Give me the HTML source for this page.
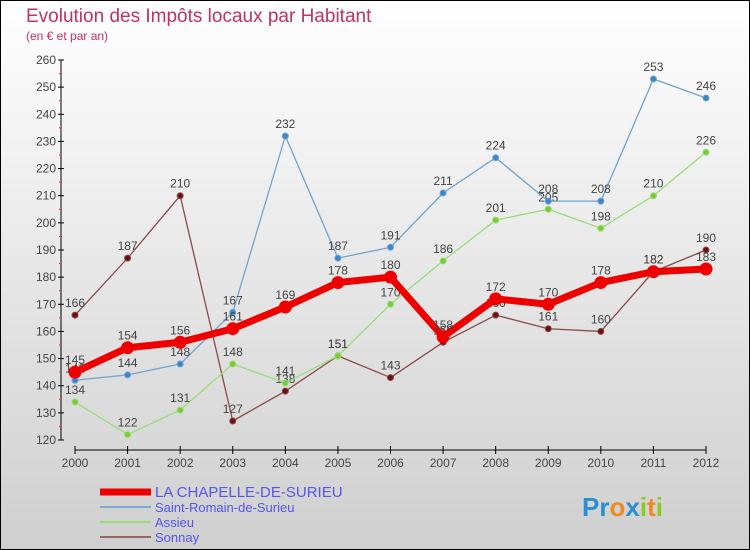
<!DOCTYPE html>
<html><head><meta charset="utf-8"><style>
body{margin:0}
#c{width:750px;height:550px;position:relative;overflow:hidden;font-family:"Liberation Sans",sans-serif}
</style></head><body>
<div id="c">
<svg id="s" width="750" height="550" xmlns="http://www.w3.org/2000/svg">
<defs><linearGradient id="bg" x1="0" y1="0" x2="0" y2="1"><stop offset="0" stop-color="#ffffff"/><stop offset="1" stop-color="#cfcfcf"/></linearGradient></defs>
<rect x="0.5" y="0.5" width="749" height="549" fill="url(#bg)" stroke="#000"/>
<text x="26" y="22" font-size="19" fill="#c0325f">Evolution des Impôts locaux par Habitant</text>
<text x="26" y="40" font-size="12" fill="#c0325f">(en € et par an)</text>
<g id="g"></g>
<text x="582" y="516" font-size="26" font-weight="bold"><tspan fill="#2a8fd0">Pr</tspan><tspan fill="#f08a1c">o</tspan><tspan fill="#2a8fd0">x</tspan><tspan fill="#88cc22">i</tspan><tspan fill="#f08a1c">t</tspan><tspan fill="#88cc22">i</tspan></text>
</svg>
</div>
<script>
const years=["2000","2001","2002","2003","2004","2005","2006","2007","2008","2009","2010","2011","2012"];
const yTicks=[120,130,140,150,160,170,180,190,200,210,220,230,240,250,260];
const chapelle=[145,154,156,161,169,178,180,158,172,170,178,182,183];
const romain=[142,144,148,167,232,187,191,211,224,208,208,253,246];
const assieu=[134,122,131,148,141,151,170,186,201,205,198,210,226];
const sonnay=[166,187,210,127,138,151,143,156,166,161,160,182,190];
const NS="http://www.w3.org/2000/svg";
const g=document.getElementById('g');
const X=i=>75+i*(706-75)/12;
const Y=v=>60+(260-v)*380/140;
function el(t,a,p){const e=document.createElementNS(NS,t);for(const k in a)e.setAttribute(k,a[k]);(p||g).appendChild(e);return e;}
let ax=el('line',{x1:61,y1:60,x2:61,y2:440,stroke:'#000'});


yTicks.forEach((v,i)=>{
 const t=el('line',{x1:58,y1:Y(v),x2:64,y2:Y(v),stroke:'#000'});
 
 
 const l=el('text',{x:56,y:Y(v)+4,'font-size':12,fill:'#444','text-anchor':'end'});
 l.textContent=v;
 
 
 if(i<yTicks.length-1){const m=el('line',{x1:59,y1:Y(v+5),x2:62,y2:Y(v+5),stroke:'#f33'});
 
 }
});
let xa=el('line',{x1:75,y1:450,x2:706,y2:450,stroke:'#000'});


years.forEach((y,i)=>{
 const t=el('line',{x1:X(i),y1:446,x2:X(i),y2:454,stroke:'#000'});
 
 
 const l=el('text',{x:X(i),y:467,'font-size':12,fill:'#444','text-anchor':'middle'});
 l.textContent=y;
 
 
});
function series(d,color,w,r,dot,name){
 const p=el('polyline',{points:d.map((v,i)=>X(i)+','+Y(v)).join(' '),fill:'none',stroke:color,'stroke-width':w,'stroke-linejoin':'round'});
 
 
 d.forEach((v,i)=>{
  const c=el('circle',{cx:X(i),cy:Y(v),r:r,fill:dot,stroke:color,'stroke-width':1});
  
  
  const t=el('text',{x:X(i),y:Y(v)-8,'font-size':12,fill:'#444','text-anchor':'middle'});
  t.textContent=v;
  
  
 });
}
series(sonnay,'#8b4a4a',1.3,3,'#6b1010','sonnay');
series(assieu,'#99dd77',1.3,3,'#77cc33','assieu');
series(romain,'#6fa4d0',1.3,3,'#3a86c8','saint-romain');
series(chapelle,'#ee0000',7,6,'#ee0000','chapelle');
const legend=[["LA CHAPELLE-DE-SURIEU","#ee0000",7,15],["Saint-Romain-de-Surieu","#7aaad0",2,13],["Assieu","#99dd77",2,13],["Sonnay","#996666",2,13]];
legend.forEach((L,i)=>{
 const y=492+i*15;
 const ln=el('line',{x1:100,y1:y,x2:151,y2:y,stroke:L[1],'stroke-width':L[2]});
 
 
 const t=el('text',{x:155,y:y+5,'font-size':L[3],fill:'#5555ee'});
 t.textContent=L[0];
 
 
});
</script>
</body></html>
